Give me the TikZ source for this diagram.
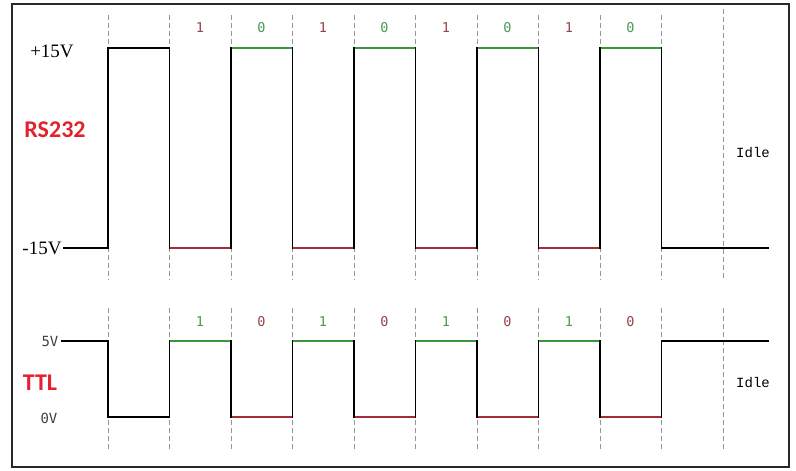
\documentclass[tikz,border=0pt]{standalone}
\usepackage{fontspec}
\setmainfont{Liberation Serif}
\newfontfamily\titlefont{Carlito}
\newfontfamily\bitfont{DejaVu Sans Mono}
\newfontfamily\idlefont{Liberation Mono}
\definecolor{bitred}{RGB}{150,65,75}
\definecolor{bitgreen}{RGB}{75,150,80}
\definecolor{linered}{RGB}{165,45,55}
\definecolor{linegreen}{RGB}{60,150,60}
\definecolor{titlered}{RGB}{225,35,45}
\definecolor{gridgray}{RGB}{150,150,150}
\definecolor{framegray}{RGB}{40,40,40}

\begin{document}
\begin{tikzpicture}[x=1pt,y=-1pt]
\tikzstyle{bitline}=[gridgray,line width=1pt,dash pattern=on 5pt off 3pt]
\tikzstyle{wave}=[black,line width=1.5pt]
\tikzstyle{lowbit}=[linered,line width=1.5pt]
\tikzstyle{highbit}=[linegreen,line width=1.5pt]
\tikzstyle{bitone}=[text=bitred,font=\bitfont\fontsize{13.5}{13.5}\selectfont]
\tikzstyle{bitzero}=[text=bitgreen,font=\bitfont\fontsize{13.5}{13.5}\selectfont]
\useasboundingbox (0,0) rectangle (796,471);
\draw[line width=1.8pt,framegray] (12,4) rectangle (789,467);

% dashed bit borders
\draw[bitline] (108,15) -- (108,280) (169.5,15) -- (169.5,280) (231,15) -- (231,280)
  (292.5,15) -- (292.5,280) (354,15) -- (354,280) (415.5,15) -- (415.5,280)
  (477,15) -- (477,280) (538.5,15) -- (538.5,280) (600,15) -- (600,280)
  (661.5,15) -- (661.5,280) (723,9) -- (723,280);
\draw[bitline] (108,308) -- (108,452) (169.5,308) -- (169.5,452) (231,308) -- (231,452)
  (292.5,308) -- (292.5,452) (354,308) -- (354,452) (415.5,308) -- (415.5,452)
  (477,308) -- (477,452) (538.5,308) -- (538.5,452) (600,308) -- (600,452)
  (661.5,308) -- (661.5,452) (723,308) -- (723,452);

% RS232
\node (pos15) at (52,51) [font=\fontsize{19}{19}\selectfont]{+15V};
\node (neg15) at (42,248) [font=\fontsize{19}{19}\selectfont]{-15V};
\node (rs) at (55,130) [font=\titlefont\bfseries\fontsize{24}{24}\selectfont,text=titlered]{RS232};
\node (idle1) at (753,153) [font=\idlefont\fontsize{14}{14}\selectfont]{Idle};

\draw[wave] (63,248) -- (108,248) -- (108,48) -- (169.5,48) -- (169.5,248) -- (231,248)
  -- (231,48) -- (292.5,48) -- (292.5,248) -- (354,248) -- (354,48) -- (415.5,48)
  -- (415.5,248) -- (477,248) -- (477,48) -- (538.5,48) -- (538.5,248) -- (600,248)
  -- (600,48) -- (661.5,48) -- (661.5,248) -- (769,248);
\draw[lowbit] (170.3,248) -- (230.2,248); \draw[highbit] (231.8,48) -- (291.7,48);
\draw[lowbit] (293.3,248) -- (353.2,248); \draw[highbit] (354.8,48) -- (414.7,48);
\draw[lowbit] (416.3,248) -- (476.2,248); \draw[highbit] (477.8,48) -- (537.7,48);
\draw[lowbit] (539.3,248) -- (599.2,248); \draw[highbit] (600.8,48) -- (660.7,48);

\node (r1) at (200,28) [bitone]{1}; \node (r2) at (261.5,28) [bitzero]{0};
\node (r3) at (323,28) [bitone]{1}; \node (r4) at (384.5,28) [bitzero]{0};
\node (r5) at (446,28) [bitone]{1}; \node (r6) at (507.5,28) [bitzero]{0};
\node (r7) at (569,28) [bitone]{1}; \node (r8) at (630.5,28) [bitzero]{0};

% TTL
\node (five) at (50,341) [font=\bitfont\fontsize{14}{14}\selectfont,text=black!75]{5V};
\node (zerov) at (49,418) [font=\bitfont\fontsize{14}{14}\selectfont,text=black!75]{0V};
\node (ttl) at (40,383) [font=\titlefont\bfseries\fontsize{24}{24}\selectfont,text=titlered]{TTL};
\node (idle2) at (753,383) [font=\idlefont\fontsize{14}{14}\selectfont]{Idle};

\draw[wave] (61,341) -- (108,341) -- (108,417) -- (169.5,417) -- (169.5,341) -- (231,341)
  -- (231,417) -- (292.5,417) -- (292.5,341) -- (354,341) -- (354,417) -- (415.5,417)
  -- (415.5,341) -- (477,341) -- (477,417) -- (538.5,417) -- (538.5,341) -- (600,341)
  -- (600,417) -- (661.5,417) -- (661.5,341) -- (769,341);
\draw[highbit] (170.3,341) -- (230.2,341); \draw[lowbit] (231.8,417) -- (291.7,417);
\draw[highbit] (293.3,341) -- (353.2,341); \draw[lowbit] (354.8,417) -- (414.7,417);
\draw[highbit] (416.3,341) -- (476.2,341); \draw[lowbit] (477.8,417) -- (537.7,417);
\draw[highbit] (539.3,341) -- (599.2,341); \draw[lowbit] (600.8,417) -- (660.7,417);

\node (t1) at (200,322) [bitzero]{1}; \node (t2) at (261.5,322) [bitone]{0};
\node (t3) at (323,322) [bitzero]{1}; \node (t4) at (384.5,322) [bitone]{0};
\node (t5) at (446,322) [bitzero]{1}; \node (t6) at (507.5,322) [bitone]{0};
\node (t7) at (569,322) [bitzero]{1}; \node (t8) at (630.5,322) [bitone]{0};
\end{tikzpicture}
\end{document}
